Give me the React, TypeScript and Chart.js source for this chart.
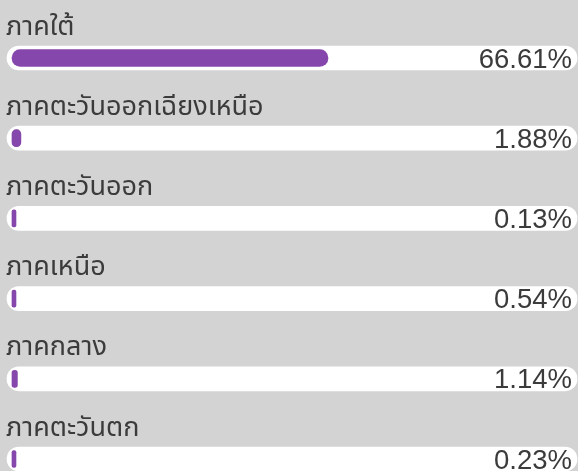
import React, { useEffect, useRef } from "react";
import { Chart, registerables } from "chart.js";

Chart.register(...registerables);

const categories = [
  "ภาคใต้",
  "ภาคตะวันออกเฉียงเหนือ",
  "ภาคตะวันออก",
  "ภาคเหนือ",
  "ภาคกลาง",
  "ภาคตะวันตก",
];
const values = [66.61, 1.88, 0.13, 0.54, 1.14, 0.23];
const valueLabels = ["66.61%", "1.88%", "0.13%", "0.54%", "1.14%", "0.23%"];

const X_MIN = -1.05;
const X_MAX = 119.1;

const BG = "#d3d3d3";
const PURPLE = "#8647ad";
const TEXT = "#3b3b3b";
const THAI_FONT = '"Noto Sans Thai", "Noto Sans Thai Looped", "Noto Sans", "DejaVu Sans", sans-serif';
const NUM_FONT = '"Liberation Sans", Arial, Helvetica, sans-serif';

const textPlugin = {
  id: "rowText",
  afterDatasetsDraw(chart: any) {
    const ctx = chart.ctx;
    const y = chart.scales.y;
    ctx.save();
    categories.forEach((cat, i) => {
      const cy = y.getPixelForValue(i);
      ctx.fillStyle = TEXT;
      ctx.font = `27px ${THAI_FONT}`;
      ctx.textAlign = "left";
      ctx.textBaseline = "alphabetic";
      ctx.fillText(cat, 6, cy - 23.5);
      ctx.font = `27.5px ${NUM_FONT}`;
      ctx.textAlign = "right";
      ctx.fillText(valueLabels[i], 572, cy + 9.5);
    });
    ctx.restore();
  },
};

export default function App() {
  const ref = useRef<HTMLCanvasElement>(null);
  useEffect(() => {
    document.body.style.margin = "0";
    document.body.style.background = BG;
    const chart = new Chart(ref.current!, {
      type: "bar",
      data: {
        labels: categories,
        datasets: [
          {
            data: values,
            backgroundColor: PURPLE,
            barThickness: 17,
            borderRadius: 9,
            borderSkipped: false,
            minBarLength: 4,
            grouped: false,
            clip: false,
            order: 0,
          } as any,
          {
            data: categories.map(() => [X_MIN, X_MAX]),
            backgroundColor: "#ffffff",
            barThickness: 24,
            borderRadius: 12,
            borderSkipped: false,
            grouped: false,
            clip: false,
            order: 1,
          } as any,
        ],
      },
      options: {
        indexAxis: "y",
        responsive: false,
        animation: false,
        layout: { padding: { top: 58, bottom: 12, left: 7, right: 1 } },
        plugins: { legend: { display: false }, tooltip: { enabled: false } },
        scales: {
          x: { type: "linear", min: X_MIN, max: X_MAX, display: false },
          y: { type: "category", offset: false, display: false },
        },
      },
      plugins: [textPlugin],
    });
    return () => chart.destroy();
  }, []);
  return (
    <div style={{ width: 578, height: 471, background: BG }}>
      <canvas ref={ref} width={578} height={471} style={{ display: "block" }} />
    </div>
  );
}
